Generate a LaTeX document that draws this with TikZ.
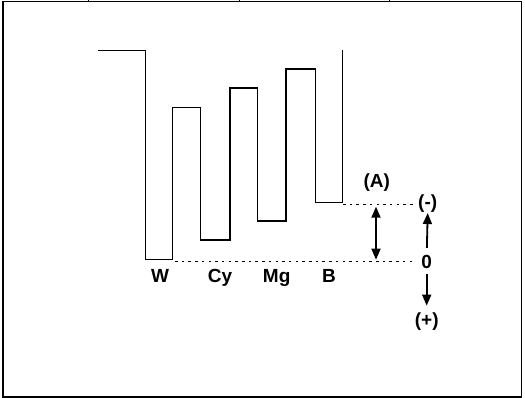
\documentclass[tikz,border=0pt]{standalone}
\usepackage{fontspec}
\setmainfont{Liberation Sans}
\usetikzlibrary{arrows.meta}
\begin{document}
\begin{tikzpicture}[x=1pt,y=-1pt,
 wave/.style={line width=1.5pt},
 lbl/.style={font=\fontsize{19}{19}\selectfont\bfseries, inner sep=0pt},
 dots/.style={line width=1.2pt, dash pattern=on 2.5pt off 4.2pt},
 arr/.style={line width=1.8pt, -{Triangle[width=9pt,length=11pt]}},
 darr/.style={line width=1.8pt, {Triangle[width=9pt,length=11pt]}-{Triangle[width=9pt,length=11pt]}}]
\useasboundingbox (0,0) rectangle (525,398);
\draw[line width=1.3pt] (3,1.5) rectangle (521.5,397);
\foreach \x in {88,239,389} \draw[line width=0.8pt] (\x,0) -- (\x,1.5);
% waveform
\draw[wave] (98,50.7) -- (145.7,50.7) -- (145.7,259.3) -- (172.7,259.3) -- (172.7,107.3) -- (200.7,107.3) -- (200.7,240) -- (230,240) -- (230,88) -- (257.7,88) -- (257.7,221) -- (286,221) -- (286,69) -- (315.3,69) -- (315.3,202.3) -- (342.7,202.3) -- (342.7,50);
% reference levels
\coordinate (lowL) at (175,261.7);
\coordinate (lowR) at (413,261.7);
\coordinate (highL) at (343,204.7);
\coordinate (highR) at (413,204.7);
\draw[dots] (lowL) -- (lowR);
\draw[dots] (highL) -- (highR);
% labels
\node[lbl] (A) at (376.7,182.7) {(A)};
\node[lbl] (minus) at (427.7,204) {(-)};
\node[lbl] (zero) at (426.7,261.7) {0};
\node[lbl] (plus) at (426.7,321.7) {(+)};
\node[lbl, anchor=base] (W) at (160,283) {W};
\node[lbl, anchor=base] (Cy) at (220,283) {Cy};
\node[lbl, anchor=base] (Mg) at (276.7,283) {Mg};
\node[lbl, anchor=base] (B) at (329,283) {B};
% arrows
\coordinate (ta) at (376,204.7);
\coordinate (tb) at (376,261.7);
\draw[darr, shorten <=2pt, shorten >=2pt] (ta) -- (tb);
\draw[arr, shorten <=7pt] (zero.north) -- (minus.south);
\draw[arr, shorten <=5pt, shorten >=7pt] (zero.south) -- (plus.north);
\end{tikzpicture}
\end{document}
